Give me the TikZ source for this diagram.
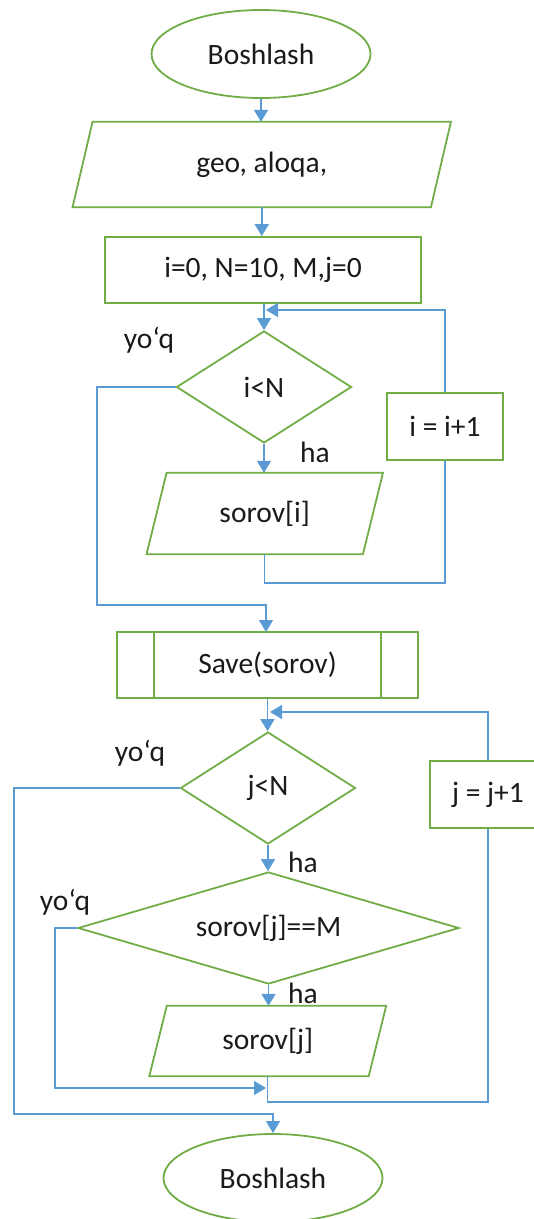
\documentclass[tikz,border=0pt]{standalone}
\usepackage{fontspec}
\setmainfont{Carlito}
\usetikzlibrary{shapes.geometric,arrows.meta}
\definecolor{boxgreen}{HTML}{70AD47}
\definecolor{flowblue}{HTML}{5B9BD5}
\definecolor{inktext}{HTML}{1A1A1A}
\begin{document}
\begin{tikzpicture}[x=1pt,y=-1pt,
  font=\fontsize{29.5}{33}\selectfont, text=inktext,
  outline/.style={draw=boxgreen, line width=1.8pt},
  terminal/.style={outline, ellipse, minimum width=219pt, minimum height=88pt, inner sep=0pt},
  process/.style={outline, rectangle, inner sep=0pt},
  decision/.style={outline, diamond, inner sep=0pt, aspect=1.56},
  iobody/.style={rectangle, inner sep=0pt},
  flow/.style={draw=flowblue, line width=1.3pt},
  arrowflow/.style={flow, line width=1.8pt, -{Triangle[length=12pt,width=14pt]}},
  looparrow/.style={flow, -{Triangle[length=12pt,width=14pt]}},
  lbl/.style={inner sep=0pt}
]
\useasboundingbox (0,0) rectangle (534,1219);

% ---- nodes ----
\node[terminal] (start) at (261,54) {Boshlash};

\node[iobody, minimum width=358pt, minimum height=85pt] (in1) at (261.75,164.5) {geo, aloqa,};
\draw[outline] ([xshift=-10pt]in1.south west) -- ([xshift=10pt]in1.north west)
  -- ([xshift=10pt]in1.north east) -- ([xshift=-10pt]in1.south east) -- cycle;

\node[process, minimum width=316pt, minimum height=66pt] (init) at (263,270) {i=0, N=10, M,j=0};

\node[decision, minimum width=175pt, minimum height=112pt] (d1) at (264,387) {i<N};

\node[iobody, minimum width=216pt, minimum height=81pt] (in2) at (264.75,513.5) {sorov[i]};
\draw[outline] ([xshift=-10pt]in2.south west) -- ([xshift=10pt]in2.north west)
  -- ([xshift=10pt]in2.north east) -- ([xshift=-10pt]in2.south east) -- cycle;

\node[process, minimum width=116pt, minimum height=67pt] (inc1) at (445,426.5) {i = i+1};

\node[process, minimum width=301pt, minimum height=66pt] (save) at (267.5,665) {Save(sorov)};
\draw[outline] ([xshift=38pt]save.north west) -- ([xshift=38pt]save.south west);
\draw[outline] ([xshift=-38pt]save.north east) -- ([xshift=-38pt]save.south east);

\node[decision, minimum width=175pt, minimum height=112pt] (d2) at (268,788) {j<N};

\node[process, minimum width=116pt, minimum height=67pt] (inc2) at (488,794.5) {j = j+1};

\node[decision, aspect=3.4, minimum width=381pt, minimum height=112pt] (d3) at (268.5,928) {sorov[j]==M};

\node[iobody, minimum width=219pt, minimum height=70pt] (in3) at (267.75,1041) {sorov[j]};
\draw[outline] ([xshift=-8.75pt]in3.south west) -- ([xshift=8.75pt]in3.north west)
  -- ([xshift=8.75pt]in3.north east) -- ([xshift=-8.75pt]in3.south east) -- cycle;

\node[terminal] (end) at (273,1178) {Boshlash};

% ---- branch labels ----
\node[lbl] (no1) at (149,340) {yo‘q};
\node[lbl] (yes1) at (315,452) {ha};
\node[lbl] (no2) at (140,753) {yo‘q};
\node[lbl] (yes2) at (303,862) {ha};
\node[lbl] (no3) at (65,902) {yo‘q};
\node[lbl] (yes3) at (303,993) {ha};

% ---- junction points ----
\coordinate (m1) at (266,310);
\coordinate (m2) at (270,712);
\coordinate (m3) at (266,1088);

% ---- straight flow ----
\draw[arrowflow] (start.south) -- (start.south |- in1.north);
\draw[arrowflow] (in1.south) -- (in1.south |- init.north);
\draw[arrowflow] (d1.north |- init.south) -- (d1.north);
\draw[arrowflow] (d1.south) -- (d1.south |- in2.north);
\draw[arrowflow] (save.south) -- (save.south |- d2.north);
\draw[arrowflow] (d2.south) -- (d2.south |- d3.north);
\draw[arrowflow] (d3.south) -- (d3.south |- in3.north);

% ---- first loop ----
\draw[flow] (in2.south) -- (264.75,583) -- (inc1.south |- 0,583) -- (inc1.south);
\draw[looparrow] (inc1.north) |- (m1);
\draw[looparrow] (d1.west) -- (97,387) -- (97,605) -- (266,605) -- (266,632);

% ---- second loop ----
\draw[flow] (in3.south) -- (267.75,1102) -- (inc2.south |- 0,1102) -- (inc2.south);
\draw[looparrow] (inc2.north) |- (m2);
\draw[looparrow] (d3.west) -- (55,928) -- (55,1088) -- (m3);
\draw[looparrow] (d2.west) -- (14,788) -- (14,1114) -- (273,1114) -- (end.north);
\end{tikzpicture}
\end{document}
